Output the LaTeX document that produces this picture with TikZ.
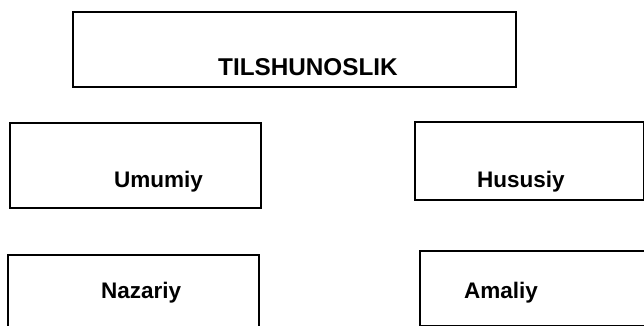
\documentclass[tikz,border=0pt]{standalone}
\usepackage{fontspec}
\setmainfont{Liberation Sans}
\begin{document}
\begin{tikzpicture}[x=1pt,y=-1pt,
  boxnode/.style={draw=black,line width=2pt,fill=white,inner sep=0pt,anchor=north west},
  lbl/.style={font=\bfseries\fontsize{22.5}{26}\selectfont,inner sep=0pt,anchor=base west}]
\useasboundingbox (0,0) rectangle (644,326);
\node[boxnode,minimum width=443pt,minimum height=75pt] (til) at (72,11) {};
\node[lbl,font=\bfseries\fontsize{24.3}{28}\selectfont] (tilt) at (218,76) {TILSHUNOSLIK};
\node[boxnode,minimum width=251pt,minimum height=85pt] (umu) at (9,122) {};
\node[lbl] (umut) at (114,187) {Umumiy};
\node[boxnode,minimum width=229pt,minimum height=78pt] (hus) at (414,121) {};
\node[lbl] (hust) at (477,187) {Hususiy};
\node[boxnode,minimum width=251pt,minimum height=76pt] (naz) at (7,254) {};
\node[lbl] (nazt) at (101,298) {Nazariy};
\node[boxnode,minimum width=230pt,minimum height=75pt] (ama) at (419,250) {};
\node[lbl] (amat) at (464,298) {Amaliy};
\end{tikzpicture}
\end{document}
